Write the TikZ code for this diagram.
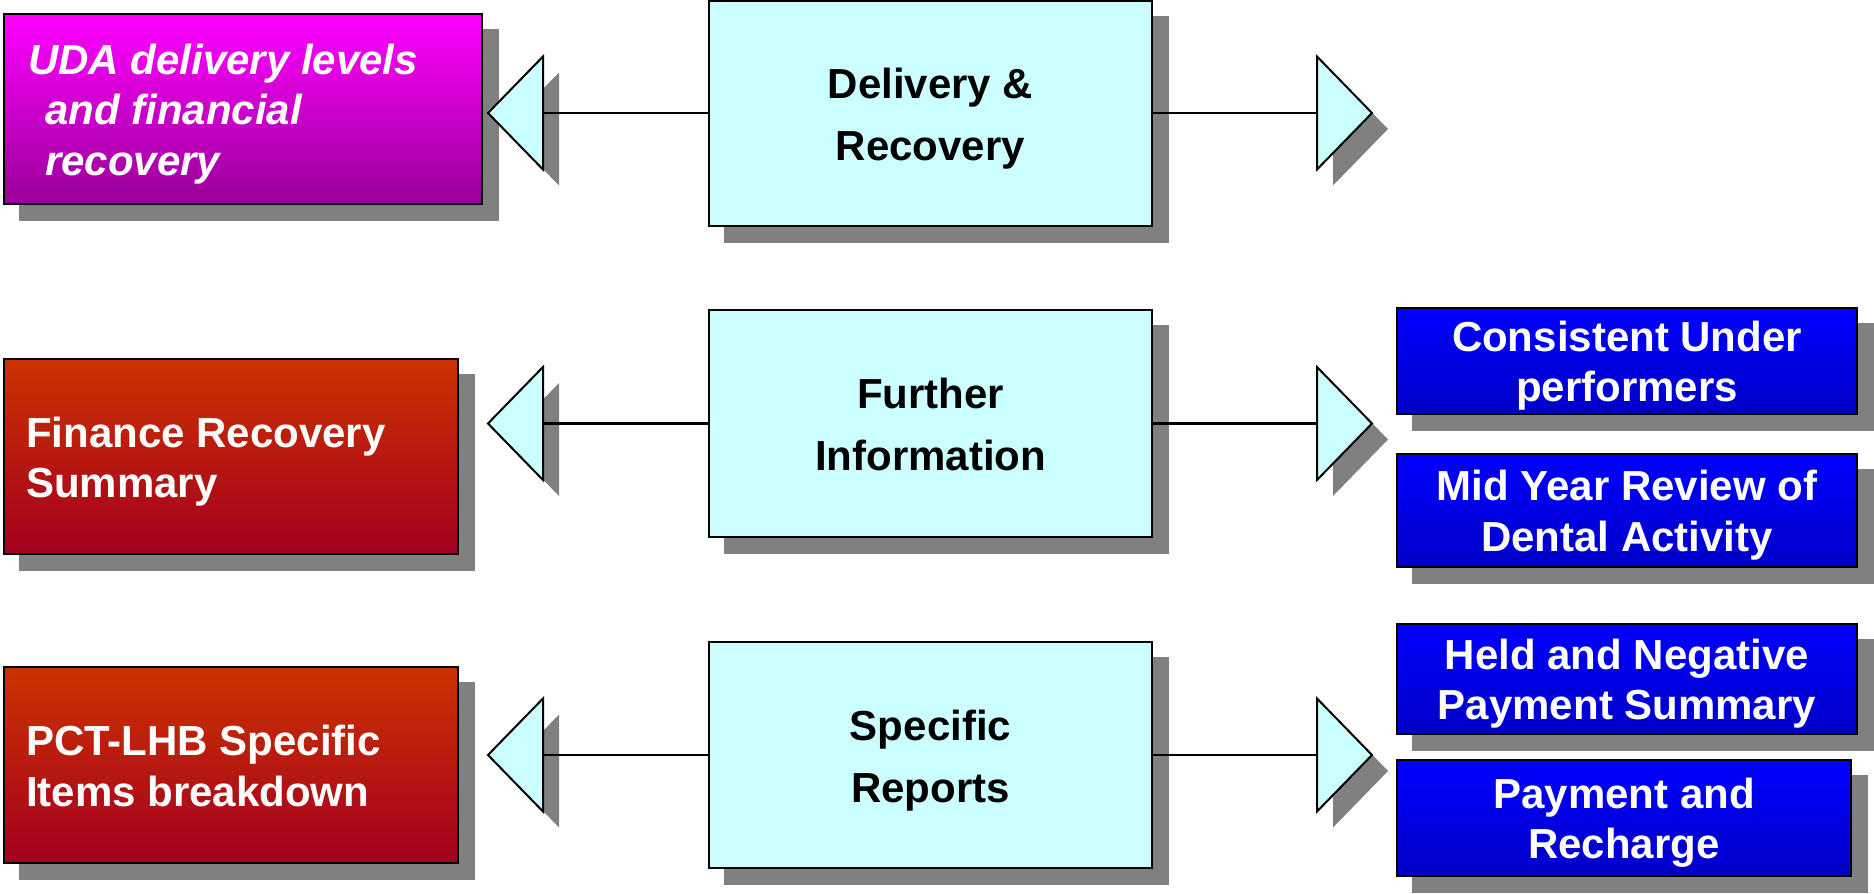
\documentclass[tikz,border=0pt]{standalone}
\usepackage{fontspec}
\setmainfont{Liberation Sans}
\usetikzlibrary{calc}
\definecolor{cfill}{HTML}{CCFFFF}
\definecolor{shadowc}{HTML}{808080}
\definecolor{magtop}{HTML}{FF00FF}
\definecolor{magbot}{HTML}{990099}
\definecolor{redtop}{HTML}{CC3300}
\definecolor{redbot}{HTML}{A3001F}
\definecolor{bluetop}{HTML}{0000FF}
\definecolor{bluebot}{HTML}{0000C8}
\pgfdeclarelayer{bg}
\pgfsetlayers{bg,main}
\tikzset{
  box/.style={rectangle, draw=black, line width=2pt, inner sep=0pt},
  centerbox/.style={box, fill=cfill},
  magbox/.style={box, top color=magtop, bottom color=magbot},
  redbox/.style={box, top color=redtop, bottom color=redbot},
  bluebox/.style={box, top color=bluetop, bottom color=bluebot},
  shadowfill/.style={fill=shadowc, draw=none},
  tri/.style={draw=black, line width=2pt, fill=cfill, line join=miter},
  conn/.style={draw=black, line width=2.5pt},
  txt/.style={inner sep=0pt, font=\bfseries\fontsize{42}{50}\selectfont, anchor=base},
  ctxt/.style={txt, text=black},
  wtxt/.style={txt, text=white},
  wltxt/.style={txt, text=white, anchor=base west},
  witxt/.style={wltxt, font=\bfseries\itshape\fontsize{42}{50}\selectfont},
}
\begin{document}
\begin{tikzpicture}[x=1pt,y=-1pt]
\useasboundingbox (0,0) rectangle (1874,894);

% boxes
\node[magbox, minimum width=478pt, minimum height=190pt] (mag) at (243,109) {};
\node[redbox, minimum width=454pt, minimum height=195pt] (r1) at (231,456.5) {};
\node[redbox, minimum width=454pt, minimum height=196pt] (r2) at (231,765) {};
\node[centerbox, minimum width=443pt, minimum height=225pt] (c1) at (930.5,113.5) {};
\node[centerbox, minimum width=443pt, minimum height=227pt] (c2) at (930.5,423.5) {};
\node[centerbox, minimum width=443pt, minimum height=226pt] (c3) at (930.5,755) {};
\node[bluebox, minimum width=460pt, minimum height=106pt] (b1) at (1627,361) {};
\node[bluebox, minimum width=460pt, minimum height=113pt] (b2) at (1627,510.5) {};
\node[bluebox, minimum width=460pt, minimum height=110pt] (b3) at (1627,679) {};
\node[bluebox, minimum width=454pt, minimum height=116pt] (b4) at (1624,818) {};

% box shadows
\begin{pgfonlayer}{bg}
\foreach \n in {mag,r1,r2,c1,c2,c3,b1,b2,b3,b4}{
  \fill[shadowfill] ([shift={(16,16)}]\n.north west) rectangle ([shift={(16,16)}]\n.south east);
}
\end{pgfonlayer}

% triangle base points
\coordinate (tl1) at (543,113);
\coordinate (tl2) at (543,423.5);
\coordinate (tl3) at (543,755);
\coordinate (tr1) at (1317,113);
\coordinate (tr2) at (1317,423.5);
\coordinate (tr3) at (1317,755);

% triangle shadows
\begin{pgfonlayer}{bg}
\foreach \t in {tl1,tl2,tl3}{
  \fill[shadowfill] ($(\t)+(-39,16)$) -- ($(\t)+(16,-40.5)$) -- ($(\t)+(16,72.5)$) -- cycle;
}
\foreach \t in {tr1,tr2,tr3}{
  \fill[shadowfill] ($(\t)+(71,16)$) -- ($(\t)+(16,-40.5)$) -- ($(\t)+(16,72.5)$) -- cycle;
}
\end{pgfonlayer}

% connectors
\draw[conn] (c1.west |- tl1) -- (tl1);
\draw[conn] (c2.west |- tl2) -- (tl2);
\draw[conn] (c3.west |- tl3) -- (tl3);
\draw[conn] (c1.east |- tr1) -- (tr1);
\draw[conn] (c2.east |- tr2) -- (tr2);
\draw[conn] (c3.east |- tr3) -- (tr3);

% triangles
\foreach \t in {tl1,tl2,tl3}{
  \draw[tri] ($(\t)+(-55,0)$) -- ($(\t)+(0,-56.5)$) -- ($(\t)+(0,56.5)$) -- cycle;
}
\foreach \t in {tr1,tr2,tr3}{
  \draw[tri] ($(\t)+(55,0)$) -- ($(\t)+(0,-56.5)$) -- ($(\t)+(0,56.5)$) -- cycle;
}

% texts
\node[ctxt] (c1a) at (930.5,98) {Delivery \&};
\node[ctxt] (c1b) at (930.5,160) {Recovery};
\node[ctxt] (c2a) at (930.5,408) {Further};
\node[ctxt] (c2b) at (930.5,470) {Information};
\node[ctxt] (c3a) at (930.5,740) {Specific};
\node[ctxt] (c3b) at (930.5,802) {Reports};

\node[wtxt] (b1a) at (1627,351) {Consistent Under};
\node[wtxt] (b1b) at (1627,401) {performers};
\node[wtxt] (b2a) at (1627,500.5) {Mid Year Review of};
\node[wtxt] (b2b) at (1627,551) {Dental Activity};
\node[wtxt] (b3a) at (1627,669) {Held and Negative};
\node[wtxt] (b3b) at (1627,719) {Payment Summary};
\node[wtxt] (b4a) at (1624,808) {Payment and};
\node[wtxt] (b4b) at (1624,858) {Recharge};

\node[wltxt] (r1a) at (26,447) {Finance Recovery};
\node[wltxt] (r1b) at (26,497) {Summary};
\node[wltxt] (r2a) at (26,755) {PCT-LHB Specific};
\node[wltxt] (r2b) at (26,806) {Items breakdown};

\node[witxt] (ma) at (28,74) {UDA delivery levels};
\node[witxt] (mb) at (45,124) {and financial};
\node[witxt] (mc) at (45,175) {recovery};
\end{tikzpicture}
\end{document}
